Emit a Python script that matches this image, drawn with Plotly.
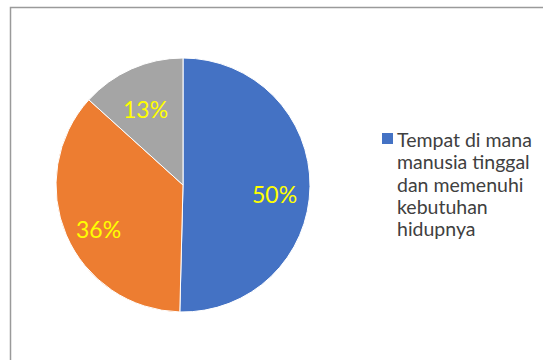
import math
import plotly.graph_objects as go

labels = ["Tempat di mana manusia tinggal dan memenuhi kebutuhan hidupnya", "Kategori 2", "Kategori 3"]
values = [50.4, 36.3, 13.3]
colors = ["#4472C4", "#ED7D31", "#A5A5A5"]
legend_lines = ["Tempat di mana", "manusia tinggal", "dan memenuhi", "kebutuhan", "hidupnya"]

W, H = 543, 360
FONT = "Lato, Open Sans, sans-serif"
CX, CY, R = 183, 185, 127  # pie centre and radius in pixels

fig = go.Figure()
fig.add_trace(go.Pie(
    labels=labels,
    values=values,
    sort=False,
    direction="clockwise",
    rotation=0,
    marker=dict(colors=colors, line=dict(color="white", width=1)),
    textinfo="none",
    showlegend=False,
    domain=dict(x=[(CX - R) / W, (CX + R) / W], y=[1 - (CY + R) / H, 1 - (CY - R) / H]),
    hoverinfo="label+percent",
))

# percentage labels placed at each slice's mid-angle
total = sum(values)
start = 0.0
for v in values:
    frac = v / total
    mid = (start + frac / 2) * 2 * math.pi
    start += frac
    x = CX + 0.72 * R * math.sin(mid)
    y = CY - 0.72 * R * math.cos(mid) + 8
    fig.add_annotation(xref="paper", yref="paper", x=x / W, y=1 - y / H,
                       text=f"{round(frac * 100)}%", showarrow=False,
                       xanchor="center", yanchor="middle",
                       font=dict(family=FONT, size=23, color="#FFFF00"))

# border of chart area
fig.add_shape(type="rect", xref="paper", yref="paper",
              x0=10.5 / W, x1=1.05, y0=-0.05, y1=1 - 7.5 / H,
              line=dict(color="#9a9a9a", width=1.5), fillcolor="rgba(0,0,0,0)")

# legend (only first entry shown)
fig.add_shape(type="rect", xref="paper", yref="paper",
              x0=382 / W, x1=393 / W, y0=1 - 144 / H, y1=1 - 133 / H,
              line=dict(width=0), fillcolor=colors[0])
for i, line in enumerate(legend_lines):
    fig.add_annotation(xref="paper", yref="paper", x=395 / W, y=1 - (140 + 22 * i) / H,
                       xanchor="left", yanchor="middle", align="left", showarrow=False,
                       text=line, font=dict(family=FONT, size=19.5, color="#404040"))

fig.update_layout(width=W, height=H, margin=dict(l=0, r=0, t=0, b=0),
                  paper_bgcolor="white", plot_bgcolor="white")
fig.write_html("out.html")
